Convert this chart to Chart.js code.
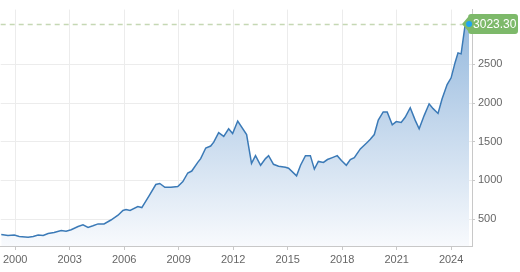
<!DOCTYPE html>
<html>
<head>
<meta charset="utf-8">
<script src="https://cdn.jsdelivr.net/npm/chart.js@4"></script>
<style>
html,body{margin:0;padding:0;background:#fff}
</style>
</head>
<body>
<canvas id="goldChart" width="520" height="272"></canvas>
<script>
// datos (anio decimal y precio)
const years = [1999.23,1999.60,1999.95,2000.22,2000.71,2000.99,2001.26,2001.54,2001.81,2002.14,
  2002.53,2002.80,2003.08,2003.46,2003.73,2004.01,2004.28,2004.56,2004.89,2005.27,
  2005.66,2005.93,2006.10,2006.32,2006.75,2006.97,2007.36,2007.74,2007.96,2008.24,
  2008.57,2008.95,2009.23,2009.50,2009.72,2010.05,2010.21,2010.49,2010.76,2010.93,
  2011.20,2011.48,2011.75,2011.97,2012.25,2012.74,2013.01,2013.23,2013.51,2013.78,
  2013.95,2014.22,2014.50,2014.88,2015.05,2015.49,2015.71,2015.98,2016.25,2016.47,
  2016.69,2016.97,2017.19,2017.46,2017.73,2017.96,2018.23,2018.45,2018.67,2019.00,
  2019.39,2019.55,2019.77,2019.99,2020.26,2020.48,2020.76,2020.98,2021.25,2021.47,
  2021.75,2022.02,2022.24,2022.52,2022.79,2023.01,2023.28,2023.50,2023.78,2024.00,
  2024.22,2024.38,2024.55,2024.77,2024.99]
const prices = [301,289,293,276,264,276,293,289,314,326,
  351,342,363,404,425,392,413,438,438,488,
  550,612,624,612,661,649,798,947,960,910,
  910,922,984,1096,1121,1233,1282,1419,1444,1494,
  1618,1568,1667,1605,1767,1593,1220,1320,1196,1282,
  1320,1208,1183,1171,1158,1059,1196,1320,1320,1146,
  1245,1233,1270,1295,1320,1258,1196,1270,1295,1407,
  1494,1531,1593,1779,1885,1885,1718,1760,1750,1816,
  1940,1779,1667,1841,1990,1928,1866,2052,2239,2326,
  2525,2649,2636,3009,3023.30]
const xTicks = [2000,2003,2006,2009,2012,2015,2018,2021,2024]
const yTicks = [500,1000,1500,2000,2500]
const lastLabel = '3023.30'

const fontFamily = '"Liberation Sans", Arial, sans-serif'

// degradado azul del area
function areaGradient(context){
    const {ctx, chartArea} = context.chart
    if(!chartArea) return null
    const g = ctx.createLinearGradient(0, chartArea.top, 0, chartArea.bottom)
    g.addColorStop(0, 'rgb(145,182,220)')
    g.addColorStop(1, 'rgb(248,250,253)')
    return g
}

// linea punteada, punto y etiqueta del ultimo valor
const lastValuePlugin = {
    id: 'lastValue',
    beforeDatasetsDraw(c){
        const meta = c.getDatasetMeta(0)
        const pt = meta.data[meta.data.length - 1]
        const ctx = c.ctx
        ctx.save()
        ctx.strokeStyle = '#c5d8b4'
        ctx.lineWidth = 1.5
        ctx.setLineDash([5, 4])
        ctx.beginPath()
        ctx.moveTo(c.chartArea.left, Math.round(pt.y) + 0.5)
        ctx.lineTo(pt.x - 4, Math.round(pt.y) + 0.5)
        ctx.stroke()
        ctx.restore()
    },
    afterDatasetsDraw(c){
        const meta = c.getDatasetMeta(0)
        const pt = meta.data[meta.data.length - 1]
        const ctx = c.ctx
        const y = pt.y
        ctx.save()
        // etiqueta verde con punta
        ctx.fillStyle = '#7db96a'
        ctx.beginPath()
        ctx.moveTo(pt.x - 7, y)
        ctx.lineTo(pt.x - 1, y - 7)
        ctx.arcTo(pt.x - 1, y - 10, pt.x + 3, y - 10, 3)
        ctx.lineTo(515, y - 10)
        ctx.arcTo(518, y - 10, 518, y - 7, 3)
        ctx.lineTo(518, y + 7)
        ctx.arcTo(518, y + 10, 515, y + 10, 3)
        ctx.lineTo(pt.x + 3, y + 10)
        ctx.arcTo(pt.x - 1, y + 10, pt.x - 1, y + 7, 3)
        ctx.closePath()
        ctx.fill()
        // punto azul
        ctx.fillStyle = '#1ea4f2'
        ctx.beginPath()
        ctx.arc(pt.x, y, 3, 0, Math.PI * 2)
        ctx.fill()
        // texto
        ctx.fillStyle = '#ffffff'
        ctx.font = '12px ' + fontFamily
        ctx.textBaseline = 'middle'
        ctx.textAlign = 'left'
        ctx.fillText(lastLabel, pt.x + 4, y + 1)
        ctx.restore()
    }
}

function createChart(){
    const ctx = document.getElementById('goldChart').getContext('2d')
    const points = years.map((yr, i) => ({x: yr, y: prices[i]}))

    new Chart(ctx, {
        type: 'line',
        data: {
            datasets: [{
                data: points,
                borderColor: '#3b7ab7',
                borderWidth: 1.5,
                backgroundColor: areaGradient,
                fill: 'start',
                pointRadius: 0,
                tension: 0
            }]
        },
        options: {
            responsive: false,
            animation: false,
            layout: {padding: 0},
            plugins: {legend: {display: false}, tooltip: {enabled: false}},
            scales: {
                x: {
                    type: 'linear',
                    min: 1999.2,
                    max: 2025.15,
                    afterBuildTicks: s => { s.ticks = xTicks.map(v => ({value: v})) },
                    afterFit: s => { s.height = 26 },
                    ticks: {
                        callback: v => String(v),
                        color: '#666',
                        font: {size: 11, family: fontFamily},
                        padding: 3,
                        maxRotation: 0,
                        autoSkip: false
                    },
                    grid: {color: '#ececec', tickLength: 4, tickColor: '#c8c8c8'},
                    border: {color: '#c8c8c8'}
                },
                y: {
                    position: 'right',
                    min: 152,
                    max: 3208,
                    afterBuildTicks: s => { s.ticks = yTicks.map(v => ({value: v})) },
                    afterFit: s => { s.width = 48 },
                    ticks: {
                        callback: v => String(v),
                        color: '#666',
                        font: {size: 11, family: fontFamily},
                        padding: 3
                    },
                    grid: {color: '#ececec', tickLength: 3, tickColor: '#c8c8c8'},
                    border: {color: '#c8c8c8'}
                }
            }
        },
        plugins: [lastValuePlugin]
    })
}

createChart()
</script>
</body>
</html>
